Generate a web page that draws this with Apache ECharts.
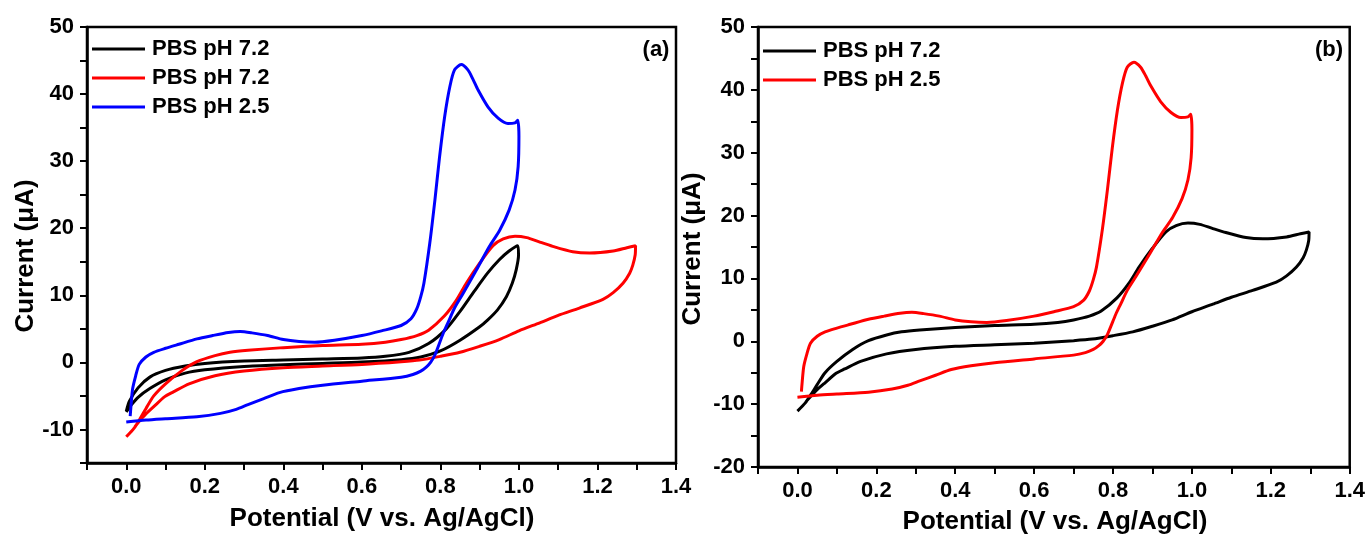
<!DOCTYPE html>
<html>
<head>
<meta charset="utf-8">
<script src="https://cdn.jsdelivr.net/npm/echarts@6/dist/echarts.min.js"></script>
<style>
html,body{margin:0;padding:0;background:#fff;}
#c{width:1368px;height:538px;}
</style>
</head>
<body>
<div id="c"></div>
<script>
// ---- data (potential V, current µA) ----
// pH 7.2 scan to 1.0 V (black in panel a)
const cvPH72Short = [
[0.0,-7.3],[0.008,-5.8],[0.03,-3.8],[0.06,-2.2],[0.1,-1.2],[0.15,-0.55],[0.2,-0.15],[0.3,0.2],[0.4,0.35],[0.5,0.5],[0.6,0.65],[0.66,0.9],[0.72,1.5],[0.77,2.8],[0.815,5.0],[0.85,7.6],[0.885,10.5],[0.92,13.3],[0.95,15.3],[0.975,16.6],[0.997,17.4],
[0.999,16.0],[0.993,13.8],[0.983,11.8],[0.968,9.8],[0.945,7.8],[0.92,6.3],[0.9,5.3],[0.85,3.3],[0.8,1.7],[0.75,0.8],[0.7,0.4],[0.6,0.05],[0.5,-0.15],[0.4,-0.35],[0.3,-0.6],[0.2,-1.1],[0.15,-1.6],[0.1,-2.6],[0.06,-3.9],[0.03,-5.2],[0.012,-6.4],[0.0,-7.4]
];
// pH 7.2 scan to 1.3 V (red in panel a, black in panel b)
const cvPH72Long = [
[0.0,-11.1],[0.02,-9.8],[0.035,-8.4],[0.05,-6.9],[0.07,-5.0],[0.1,-3.2],[0.14,-1.3],[0.18,0.1],[0.226,1.0],[0.264,1.5],[0.31,1.8],[0.4,2.2],[0.5,2.5],[0.6,2.7],[0.66,3.0],[0.7,3.4],[0.74,4.0],[0.77,4.8],[0.81,6.9],[0.84,9.2],[0.866,11.8],[0.9,14.8],[0.934,17.4],[0.96,18.4],[0.99,18.8],[1.02,18.6],[1.05,18.0],[1.086,17.3],[1.137,16.5],[1.18,16.3],[1.24,16.6],[1.275,17.1],[1.297,17.4],
[1.296,16.0],[1.29,14.5],[1.282,13.3],[1.265,11.8],[1.24,10.4],[1.214,9.4],[1.154,8.1],[1.1,7.0],[1.053,5.9],[1.0,4.7],[0.95,3.4],[0.9,2.4],[0.85,1.5],[0.8,0.9],[0.747,0.35],[0.7,0.1],[0.6,-0.3],[0.5,-0.55],[0.4,-0.8],[0.3,-1.3],[0.226,-2.0],[0.16,-3.2],[0.12,-4.4],[0.098,-5.1],[0.07,-6.6],[0.05,-7.7],[0.03,-9.0],[0.022,-9.6]
];
// pH 2.5 scan (blue in panel a, red in panel b)
const cvPH25 = [
[0.01,-8.0],[0.012,-6.5],[0.016,-4.0],[0.024,-2.0],[0.033,-0.3],[0.05,0.8],[0.07,1.5],[0.1,2.1],[0.134,2.7],[0.18,3.5],[0.22,4.0],[0.26,4.45],[0.29,4.6],[0.32,4.4],[0.36,4.0],[0.4,3.4],[0.44,3.1],[0.48,3.0],[0.53,3.3],[0.6,4.0],[0.65,4.7],[0.7,5.5],[0.725,6.5],[0.74,8.0],[0.75,9.8],[0.758,11.8],[0.773,17.8],[0.786,24.2],[0.798,30.7],[0.811,36.7],[0.824,41.1],[0.836,43.6],[0.853,44.4],[0.87,43.6],[0.883,42.2],[0.896,40.6],[0.921,38.1],[0.947,36.4],[0.972,35.6],[0.99,35.7],[0.997,36.1],
[1.0,33.7],[0.998,29.2],[0.99,25.7],[0.975,22.7],[0.951,19.7],[0.925,17.3],[0.892,13.8],[0.858,10.3],[0.836,8.1],[0.82,6.0],[0.807,4.3],[0.786,1.1],[0.775,0.0],[0.764,-0.7],[0.75,-1.3],[0.73,-1.8],[0.7,-2.2],[0.6,-2.8],[0.5,-3.4],[0.44,-3.9],[0.39,-4.5],[0.35,-5.4],[0.31,-6.3],[0.28,-7.0],[0.24,-7.6],[0.18,-8.1],[0.1,-8.4],[0.05,-8.6],[0.0,-8.9]
];
const legendA = ['PBS pH 7.2','PBS pH 7.2','PBS pH 2.5'];
const legendB = ['PBS pH 7.2','PBS pH 2.5'];
const xTickLabels = ['0.0','0.2','0.4','0.6','0.8','1.0','1.2','1.4'];
const yTickLabelsA = ['-10','0','10','20','30','40','50'];
const yTickLabelsB = ['-20','-10','0','10','20','30','40','50'];
const panelTitles = ['(a)','(b)'];
const xTitle = 'Potential (V vs. Ag/AgCl)';
const yTitle = 'Current (\u03bcA)';

// ---- chart ----
const FONT = '"Liberation Sans", Arial, sans-serif';
const chart = echarts.init(document.getElementById('c'), null, {renderer:'canvas'});

function xAxisCfg(gi){
  return {
    type:'value', gridIndex:gi, min:-0.1, max:1.4, interval:0.1,
    axisLine:{show:true, onZero:false, lineStyle:{color:'#000', width:2.5}},
    axisTick:{show:true, inside:false, length:7, lineStyle:{color:'#000', width:2}},
    axisLabel:{show:true, margin:13, color:'#000', fontFamily:FONT, fontWeight:'bold', fontSize:22,
      showMinLabel:true, showMaxLabel:true,
      formatter:function(v){const s=(Math.round(v*10)/10).toFixed(1);return xTickLabels.indexOf(s)>=0?s:'';}},
    splitLine:{show:false}
  };
}
function yAxisCfg(gi, mn, labels){
  return {
    type:'value', gridIndex:gi, min:mn, max:50, interval:5,
    axisLine:{show:true, onZero:false, lineStyle:{color:'#000', width:2.5}},
    axisTick:{show:true, inside:false, length:7, lineStyle:{color:'#000', width:2}},
    axisLabel:{show:true, margin:13, color:'#000', fontFamily:FONT, fontWeight:'bold', fontSize:22,
      showMinLabel:true, showMaxLabel:true,
      formatter:function(v){const s=String(Math.round(v));return labels.indexOf(s)>=0?s:'';}},
    splitLine:{show:false}
  };
}
function lineSeries(name, data, color, xi){
  return {
    name:name, type:'line', xAxisIndex:xi, yAxisIndex:xi, data:data,
    symbol:'none', showSymbol:false, smooth:0.25, clip:true,
    lineStyle:{color:color, width:3}, itemStyle:{color:color}
  };
}
const legendText = {a0:legendA[0], a1:legendA[1], a2:legendA[2], b0:legendB[0], b1:legendB[1]};
function legendCfg(names, left, top){
  return {
    data:names, orient:'vertical', left:left, top:top,
    icon:'rect', itemWidth:53, itemHeight:3, itemGap:7, padding:0,
    formatter:function(n){return legendText[n];},
    textStyle:{color:'#000', fontFamily:FONT, fontWeight:'bold', fontSize:22, lineHeight:22, padding:[0,0,0,2]}
  };
}
const titleStyle = {fill:'#000', font:'bold 26px ' + FONT, textAlign:'center', textVerticalAlign:'middle'};

chart.setOption({
  animation:false,
  backgroundColor:'#fff',
  grid:[
    {left:87, top:27, width:589, height:436, show:true, borderColor:'#000', borderWidth:2.5, backgroundColor:'transparent'},
    {left:758, top:27, width:592, height:440, show:true, borderColor:'#000', borderWidth:2.5, backgroundColor:'transparent'}
  ],
  xAxis:[xAxisCfg(0), xAxisCfg(1)],
  yAxis:[yAxisCfg(0,-15,yTickLabelsA), yAxisCfg(1,-20,yTickLabelsB)],
  legend:[legendCfg(['a0','a1','a2'], 92, 38), legendCfg(['b0','b1'], 763, 40)],
  series:[
    lineSeries('a0', cvPH72Short, '#000000', 0),
    lineSeries('a1', cvPH72Long, '#ff0000', 0),
    lineSeries('a2', cvPH25, '#0000ff', 0),
    lineSeries('b0', cvPH72Long, '#000000', 1),
    lineSeries('b1', cvPH25, '#ff0000', 1)
  ],
  graphic:[
    {type:'text', x:656, y:50, style:Object.assign({text:panelTitles[0]}, titleStyle, {font:'bold 22px ' + FONT})},
    {type:'text', x:1329, y:50, style:Object.assign({text:panelTitles[1]}, titleStyle, {font:'bold 22px ' + FONT})},
    {type:'text', x:382, y:519, style:Object.assign({text:xTitle}, titleStyle)},
    {type:'text', x:1055, y:522, style:Object.assign({text:xTitle}, titleStyle)},
    {type:'text', x:26, y:256, rotation:Math.PI/2, style:Object.assign({text:yTitle}, titleStyle)},
    {type:'text', x:693, y:249, rotation:Math.PI/2, style:Object.assign({text:yTitle}, titleStyle)}
  ]
});
</script>
</body>
</html>
